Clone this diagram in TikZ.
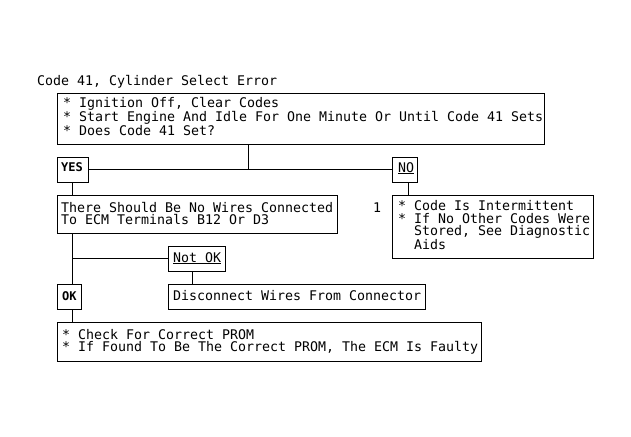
\documentclass[tikz,border=0pt]{standalone}
\usepackage{fontspec}
\setmonofont{DejaVu Sans Mono}
\begin{document}
\begin{tikzpicture}[x=1pt,y=-1pt,
  box/.style={draw=black,line width=1pt,rectangle,inner sep=0pt},
  txt/.style={anchor=base west,inner sep=0pt,align=left,
    font=\ttfamily\fontsize{13.29pt}{12.5pt}\selectfont},
  line/.style={draw=black,line width=1pt}]
\useasboundingbox[fill=white] (0,0) rectangle (631,436);
\newcommand\mkbox[5]{\node[box,minimum width={#4-#2},minimum height={#5-#3}] (#1) at ({(#2+#4)/2},{(#3+#5)/2}) {};}
\mkbox{b1}{57}{93}{544}{144}
\mkbox{yes}{57}{157}{88}{182}
\mkbox{no}{392}{157}{417}{182}
\mkbox{b3}{392}{195}{593}{258}
\mkbox{b2}{57}{195}{337}{233}
\mkbox{notok}{168}{246}{225}{271}
\mkbox{disc}{168}{284}{425}{309}
\mkbox{ok}{57}{284}{81}{309}
\mkbox{b4}{57}{322}{481}{361}
% texts (base anchor = baseline of last line)
\node[txt] (title) at (37,85) {Code 41, Cylinder Select Error};
\node[txt] (t1) at (63,135) {* Ignition Off, Clear Codes\\* Start Engine And Idle For One Minute Or Until Code 41 Sets\\* Does Code 41 Set?};
\node[txt,font=\ttfamily\bfseries\fontsize{12pt}{12.5pt}\selectfont] (tyes) at (61,171) {YES};
\node[txt] (tno) at (398,172) {\underline{NO}};
\node[txt] (tone) at (373,212) {1};
\node[txt] (t3) at (398,249.5) {* Code Is Intermittent\\* If No Other Codes Were\\\hspace*{16pt}Stored, See Diagnostic\\\hspace*{16pt}Aids};
\node[txt] (t2) at (61,224.5) {There Should Be No Wires Connected\\To ECM Terminals B12 Or D3};
\node[txt] (tnot) at (173,262) {\underline{Not OK}};
\node[txt,font=\ttfamily\bfseries\fontsize{12pt}{12.5pt}\selectfont] (tok) at (62,300) {OK};
\node[txt] (tdisc) at (173,300) {Disconnect Wires From Connector};
\node[txt] (t4) at (62,351.5) {* Check For Correct PROM\\* If Found To Be The Correct PROM, The ECM Is Faulty};
% connectors
\coordinate (j1) at (248,169);
\draw[line] (b1.south -| j1) -- (j1);
\draw[line] (yes.east) -- (no.west);
\draw[line] (yes.south) -- (yes.south |- b2.north);
\draw[line] ([xshift=3.5pt]no.south) -- ([xshift=3.5pt]no.south |- b3.north);
\draw[line] (b2.south -| yes.south) -- (ok.north -| yes.south);
\draw[line] (notok.west -| yes.south) -- (notok.west);
\draw[line] ([xshift=-4.5pt]notok.south) -- ([xshift=-4.5pt]notok.south |- disc.north);
\draw[line] (ok.south -| yes.south) -- (b4.north -| yes.south);
\end{tikzpicture}
\end{document}
